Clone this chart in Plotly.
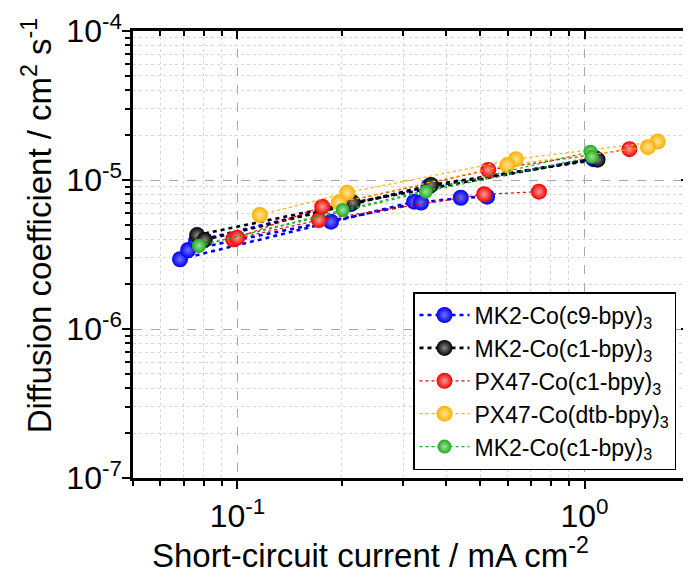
import plotly.graph_objects as go

# ---- data (each series: several measured sub-lines) ----
names = ["MK2-Co(c9-bpy)<sub>3</sub>", "MK2-Co(c1-bpy)<sub>3</sub>",
         "PX47-Co(c1-bpy)<sub>3</sub>", "PX47-Co(dtb-bpy)<sub>3</sub>",
         "MK2-Co(c1-bpy)<sub>3</sub>"]

blue_x = [[0.0683, 0.186, 0.323], [0.0721, 0.338, 0.44, 0.524], [0.076, 0.212, 0.355, 1.06]]
blue_y = [[2.94e-6, 5.25e-6, 7.15e-6], [3.39e-6, 7.05e-6, 7.6e-6, 7.73e-6], [3.9e-6, 6.9e-6, 9.0e-6, 1.38e-5]]

black_x = [[0.0765, 0.215, 1.075], [0.0805, 0.361, 1.09]]
black_y = [[4.27e-6, 7.05e-6, 1.40e-5], [3.96e-6, 9.26e-6, 1.37e-5]]

red_x = [[0.0971, 0.1716, 0.5136, 0.739], [0.0998, 0.1755, 0.528, 1.347]]
red_y = [[4.0e-6, 5.39e-6, 8.02e-6, 8.35e-6], [4.1e-6, 6.62e-6, 1.167e-5, 1.61e-5]]

yellow_x = [[0.116, 0.207, 0.634, 1.624], [0.196, 0.599, 1.523]]
yellow_y = [[5.82e-6, 8.22e-6, 1.38e-5, 1.81e-5], [7.05e-6, 1.26e-5, 1.66e-5]]

green_x = [[0.0775, 0.201, 1.04], [0.0775, 0.349, 1.05]]
green_y = [[3.62e-6, 6.29e-6, 1.55e-5], [3.62e-6, 8.35e-6, 1.43e-5]]

x_tickvals = [0.1, 1]
x_ticktext = ["10<sup>-1</sup>", "10<sup>0</sup>"]
y_tickvals = [1e-7, 1e-6, 1e-5, 1e-4]
y_ticktext = ["10<sup>-7</sup>", "10<sup>-6</sup>", "10<sup>-5</sup>", "10<sup>-4</sup>"]

x_title = "Short-circuit current / mA cm<sup>-2</sup>"
y_title = "Diffusion coefficient / cm<sup>2</sup> s<sup>-1</sup>"

# ---- styles ----
styles = [
    dict(color="#0000EE", center="#7070FF", lw=2.6, dash="4px,4px", size=16),
    dict(color="#000000", center="#8a8a8a", lw=2.6, dash="4px,4px", size=16),
    dict(color="#F00000", center="#FF9a9a", lw=1.2, dash="3px,3px", size=16),
    dict(color="#FFB000", center="#FFE39a", lw=1.2, dash="3px,3px", size=16),
    dict(color="#1FA81F", center="#9AE69A", lw=1.2, dash="3px,3px", size=14),
]
series = [(blue_x, blue_y), (black_x, black_y), (red_x, red_y),
          (yellow_x, yellow_y), (green_x, green_y)]


def join(groups):
    out = []
    for i, g in enumerate(groups):
        if i:
            out.append(None)
        out.extend(g)
    return out


fig = go.Figure()
for name, (sx, sy), st in zip(names, series, styles):
    fig.add_trace(go.Scatter(
        x=join(sx), y=join(sy), name=name, mode="lines+markers",
        connectgaps=False,
        line=dict(color=st["color"], width=st["lw"], dash=st["dash"]),
        marker=dict(size=st["size"], color=st["color"], line=dict(width=0),
                    gradient=dict(type="radial", color=st["center"])),
    ))

# invisible trace to carry mirrored (inside) ticks on top/right
fig.add_trace(go.Scatter(x=[None], y=[None], xaxis="x2", yaxis="y2",
                         showlegend=False, hoverinfo="skip"))

x_minor = [m * 10.0 ** e for e in (-2, -1, 0) for m in range(2, 10)
           if 0.05 <= m * 10.0 ** e <= 2]
y_minor = [m * 10.0 ** e for e in (-7, -6, -5) for m in range(2, 10)]

font = "Liberation Sans, Arial, sans-serif"
xr = [-1.30103, 0.30103]
yr = [-7, -4]

fig.update_layout(
    width=683, height=575,
    margin=dict(l=125, r=2, t=23, b=105, autoexpand=False),
    paper_bgcolor="white", plot_bgcolor="white",
    font=dict(family=font, color="black"),
    showlegend=True,
    legend=dict(x=0.5036, y=0.416, xanchor="left", yanchor="top",
                bgcolor="white", bordercolor="black", borderwidth=1.5,
                font=dict(size=23, family=font), itemwidth=50,
                tracegroupgap=0),
    xaxis=dict(type="log", range=xr, tickmode="array", tickvals=x_tickvals,
               ticktext=x_ticktext, tickfont=dict(size=32), automargin=False,
               ticks="outside", ticklen=8, tickwidth=2, tickcolor="black",
               showline=True, linewidth=2.5, linecolor="black", mirror=True,
               showgrid=True, gridcolor="#a8a8a8", griddash="dash", gridwidth=1.3,
               zeroline=False,
               minor=dict(tickmode="array", tickvals=x_minor, ticks="outside",
                          ticklen=5, tickwidth=1.5, tickcolor="black",
                          showgrid=True, gridcolor="#d6d6d6", griddash="dot",
                          gridwidth=1)),
    yaxis=dict(type="log", range=yr, tickmode="array", tickvals=y_tickvals,
               ticktext=y_ticktext, tickfont=dict(size=32), automargin=False,
               ticklabelstandoff=-6,
               ticks="outside", ticklen=8, tickwidth=2, tickcolor="black",
               showline=True, linewidth=2.5, linecolor="black", mirror=True,
               showgrid=True, gridcolor="#a8a8a8", griddash="dash", gridwidth=1.3,
               zeroline=False,
               minor=dict(tickmode="array", tickvals=y_minor, ticks="outside",
                          ticklen=5, tickwidth=1.5, tickcolor="black",
                          showgrid=True, gridcolor="#d6d6d6", griddash="dot",
                          gridwidth=1)),
    xaxis2=dict(type="log", range=xr, overlaying="x", side="top", automargin=False,
                tickmode="array", tickvals=x_tickvals, showticklabels=False,
                ticks="inside", ticklen=8, tickwidth=2, tickcolor="black",
                showgrid=False, showline=False, zeroline=False,
                minor=dict(tickmode="array", tickvals=x_minor, ticks="inside",
                           ticklen=5, tickwidth=1.5, tickcolor="black",
                           showgrid=False)),
    yaxis2=dict(type="log", range=yr, overlaying="y", side="right", automargin=False,
                tickmode="array", tickvals=y_tickvals, showticklabels=False,
                ticks="inside", ticklen=8, tickwidth=2, tickcolor="black",
                showgrid=False, showline=False, zeroline=False,
                minor=dict(tickmode="array", tickvals=y_minor, ticks="inside",
                           ticklen=5, tickwidth=1.5, tickcolor="black",
                           showgrid=False)),
    annotations=[
        dict(text=x_title, xref="paper", yref="paper", x=0.428, y=-0.168,
             xanchor="center", yanchor="middle", showarrow=False,
             font=dict(size=33, family=font)),
        dict(text=y_title, xref="paper", yref="paper", x=-0.172, y=0.566,
             xanchor="center", yanchor="middle", showarrow=False, textangle=-90,
             font=dict(size=33, family=font)),
    ],
)

fig.write_html("out.html")
